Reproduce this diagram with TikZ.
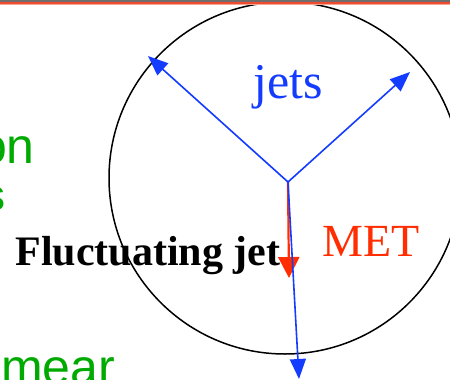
\documentclass[tikz,border=0pt]{standalone}
\usepackage{fontspec}
\setmainfont{Liberation Serif}
\newfontfamily\slidesans{Liberation Sans}
\usepackage{xcolor}
\usetikzlibrary{arrows.meta,positioning}
\definecolor{jetblue}{RGB}{20,60,255}
\definecolor{metred}{RGB}{255,45,0}
\definecolor{slidegreen}{RGB}{0,170,0}
\definecolor{bargray}{RGB}{110,110,110}
\definecolor{barred}{RGB}{240,75,45}

\begin{document}
\begin{tikzpicture}[x=1pt,y=-1pt,
	jetarrow/.style={-{Triangle[length=20pt,width=16pt]},jetblue,line width=1.6pt},
	metarrow/.style={-{Triangle[length=21pt,width=21pt]},metred,line width=2.2pt},
	greentext/.style={inner sep=0pt,text=slidegreen,font=\slidesans\fontsize{50}{54}\selectfont}]
	\useasboundingbox (0,0) rectangle (450,380);
	\clip (0,0) rectangle (450,380);

	% event circle
	\draw[line width=1.5pt] (285,178) circle (176);

	% slide header bar
	\fill[bargray] (0,0) rectangle (450,2.3);
	\fill[barred] (0,2.3) rectangle (450,4.3);
	\fill[barred!50] (0,4.3) rectangle (450,5.2);

	% vectors
	\coordinate (vtx) at (288,182);
	\coordinate (jetL) at (148,56);
	\coordinate (jetR) at (410,72);
	\coordinate (metTip) at (289,278);
	\coordinate (jetD) at (299,379);
	\draw[jetarrow] (vtx) -- (jetL);
	\draw[jetarrow] (vtx) -- (jetR);
	\draw[metarrow] (vtx) -- (metTip);
	\draw[jetarrow] (vtx) -- (jetD);

	% labels
	\node[anchor=base,inner sep=0pt,text=jetblue,font=\fontsize{50}{54}\selectfont] (jets) at (288,98) {jets};
	\node[anchor=base,inner sep=0pt,text=metred,font=\fontsize{46}{50}\selectfont] (met) at (371,256) {MET};
	\node[anchor=base,inner sep=0pt,font=\bfseries\fontsize{42}{46}\selectfont] (fluct) at (148,265) {Fluctuating jet};

	% cut-off slide text
	\node[greentext,anchor=base east] (on) at (35,163) {on};
	\node[greentext,anchor=base east,font=\slidesans\fontsize{44}{48}\selectfont] (s) at (6,210) {s};
	\node[greentext,anchor=base west] (smear) at (1,384) {mear};
\end{tikzpicture}
\end{document}
